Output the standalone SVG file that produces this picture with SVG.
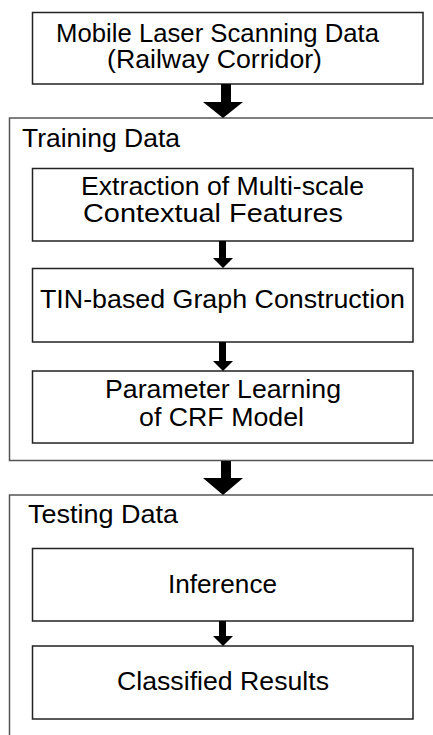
<svg xmlns="http://www.w3.org/2000/svg" width="433" height="735" viewBox="0 0 433 735">
<style>
.box{fill:#fff;stroke:#222;stroke-width:1.5}
.grp{fill:none;stroke:#555;stroke-width:1.5}
.t{font-family:"Liberation Sans",Arial,sans-serif;font-size:25.5px;fill:#000}
.arr{fill:#000;stroke:none}
</style>
<rect width="433" height="735" fill="#fff"/>
<g id="training-group">
<path class="grp" d="M440,118 H9.5 V460.5 H440"/>
<text class="t" x="22" y="147" textLength="158" lengthAdjust="spacingAndGlyphs">Training Data</text>
</g>
<g id="testing-group">
<path class="grp" d="M440,495 H9.5 V745"/>
<text class="t" x="28" y="523" textLength="150" lengthAdjust="spacingAndGlyphs">Testing Data</text>
</g>
<g id="mls">
<rect class="box" x="32.5" y="12.5" width="390.5" height="71.5"/>
<text class="t" x="56" y="42" textLength="323" lengthAdjust="spacingAndGlyphs">Mobile Laser Scanning Data</text>
<text class="t" x="107" y="68" textLength="215" lengthAdjust="spacingAndGlyphs">(Railway Corridor)</text>
</g>
<g id="extraction">
<rect class="box" x="32.5" y="168.5" width="380.5" height="72.5"/>
<text class="t" x="81" y="195" textLength="283" lengthAdjust="spacingAndGlyphs">Extraction of Multi-scale</text>
<text class="t" x="83" y="221.5" textLength="260" lengthAdjust="spacingAndGlyphs">Contextual Features</text>
</g>
<g id="tin">
<rect class="box" x="32.5" y="268.5" width="380.5" height="73.5"/>
<text class="t" x="40" y="308" textLength="365" lengthAdjust="spacingAndGlyphs">TIN-based Graph Construction</text>
</g>
<g id="param">
<rect class="box" x="32.5" y="371" width="380.5" height="72"/>
<text class="t" x="105" y="398" textLength="236" lengthAdjust="spacingAndGlyphs">Parameter Learning</text>
<text class="t" x="139" y="426" textLength="165" lengthAdjust="spacingAndGlyphs">of CRF Model</text>
</g>
<g id="inference">
<rect class="box" x="32.5" y="548.5" width="380.5" height="72.5"/>
<text class="t" x="168" y="593" textLength="109" lengthAdjust="spacingAndGlyphs">Inference</text>
</g>
<g id="classified">
<rect class="box" x="32.5" y="646" width="380.5" height="73"/>
<text class="t" x="117" y="690" textLength="212" lengthAdjust="spacingAndGlyphs">Classified Results</text>
</g>
<g id="connectors">
<polygon class="arr" points="221,84 231,84 231,102 243,102 223,118 203,102 221,102"/>
<polygon class="arr" points="219,241 226,241 226,258 233,258 223,268 213,258 219,258"/>
<polygon class="arr" points="219,342 226,342 226,361 233,361 223,371 213,361 219,361"/>
<polygon class="arr" points="221,461 231,461 231,478 243,478 223,495 203,478 221,478"/>
<polygon class="arr" points="219,621 226,621 226,636 233,636 223,646 213,636 219,636"/>
</g>
</svg>
